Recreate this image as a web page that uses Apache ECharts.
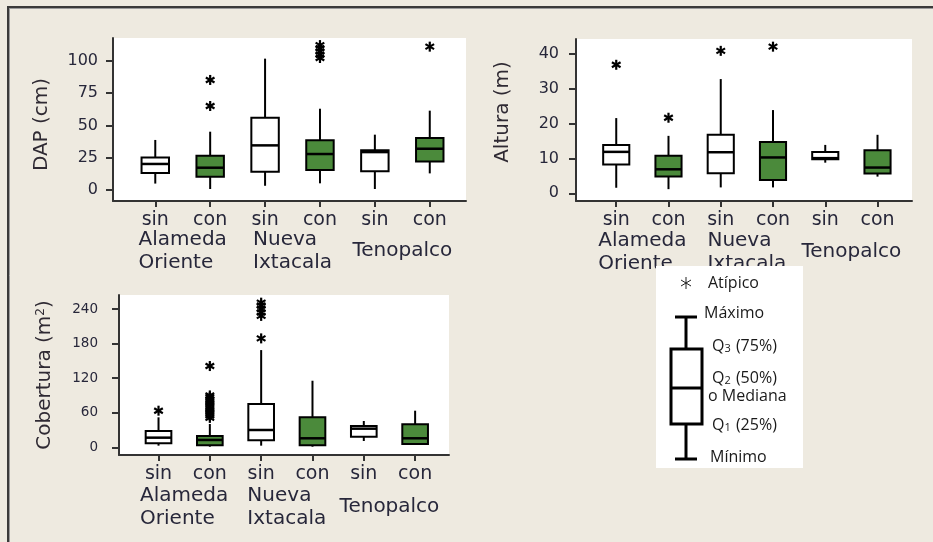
<!DOCTYPE html>
<html>
<head>
<meta charset="utf-8">
<script src="https://cdn.jsdelivr.net/npm/echarts@6/dist/echarts.min.js"></script>
<style>
  html, body { margin: 0; padding: 0; background: #eeeae0; }
  #chart { width: 933px; height: 542px; }
</style>
</head>
<body>
<div id="chart"></div>
<script>
// Treatment of each box, and the site each pair of boxes belongs to
const treatments = ['sin', 'con', 'sin', 'con', 'sin', 'con'];
const sites = ['Alameda\nOriente', 'Nueva\nIxtacala', 'Tenopalco'];

// Box statistics per treatment: [min, Q1, median, Q3, max]
const dapBoxes = [
  [5, 13.2, 20.2, 25.3, 38.8],
  [0.8, 10.3, 17.3, 26.6, 45.2],
  [3.3, 14.2, 34.6, 56, 101.8],
  [5.2, 15.5, 27.9, 38.5, 63],
  [0.8, 14.5, 29.4, 30.8, 42.9],
  [12.9, 22.2, 32, 40.3, 61.5]
];
// Outliers: [treatment index, value]
const dapOutliers = [
  [1, 85.3], [1, 65.1],
  [3, 102.3], [3, 104.8], [3, 107.3], [3, 109.8], [3, 112.3],
  [5, 111.1]
];
const dapTicks = [0, 25, 50, 75, 100];

const alturaBoxes = [
  [1.6, 8.3, 11.9, 13.9, 21.6],
  [1.2, 4.8, 6.9, 10.8, 16.5],
  [1.7, 5.8, 11.8, 16.8, 32.8],
  [1.7, 3.8, 10.3, 14.7, 23.9],
  [8.8, 9.8, 10.1, 11.9, 13.9],
  [4.8, 5.7, 7.4, 12.4, 16.8]
];
const alturaOutliers = [[0, 36.9], [1, 21.7], [2, 40.9], [3, 42.1]];
const alturaTicks = [0, 10, 20, 30, 40];

const coberturaBoxes = [
  [2.8, 6.9, 16.7, 28.3, 52],
  [1, 3.5, 12.7, 19.6, 40.4],
  [2.8, 12.1, 30, 75.1, 168.7],
  [1, 3.5, 15.6, 52, 115.5],
  [10.9, 18.4, 32.3, 36.9, 45.6],
  [4, 5.7, 15.6, 39.9, 63.5]
];
const coberturaOutliers = [
  [0, 63.5],
  [1, 141], [1, 51], [1, 55], [1, 59], [1, 63], [1, 67], [1, 71],
  [1, 75], [1, 79], [1, 83], [1, 87], [1, 90],
  [2, 189], [2, 228], [2, 234], [2, 240], [2, 246], [2, 251]
];
const coberturaTicks = [0, 60, 120, 180, 240];

const GREEN = '#4b8a3b';
const INK = '#27273a';
const AXIS = '#333333';
const FONT = 'DejaVu Sans';

// Boxes without whisker caps, median drawn as a heavier line
function renderBox(params, api) {
  const idx = api.value(0);
  const pLo = api.coord([idx, api.value(1)]);
  const pQ1 = api.coord([idx, api.value(2)]);
  const pMed = api.coord([idx, api.value(3)]);
  const pQ3 = api.coord([idx, api.value(4)]);
  const pHi = api.coord([idx, api.value(5)]);
  const half = api.size([0.5, 0])[0] / 2;
  const x = pLo[0];
  const fill = treatments[idx] === 'con' ? GREEN : '#ffffff';
  const ln = { stroke: '#000', lineWidth: 2 };
  return {
    type: 'group',
    children: [
      { type: 'line', shape: { x1: x, y1: pHi[1], x2: x, y2: pQ3[1] }, style: ln },
      { type: 'line', shape: { x1: x, y1: pQ1[1], x2: x, y2: pLo[1] }, style: ln },
      { type: 'rect', shape: { x: x - half, y: pQ3[1], width: 2 * half, height: pQ1[1] - pQ3[1] },
        style: { fill: fill, stroke: '#000', lineWidth: 2 } },
      { type: 'line', shape: { x1: x - half, y1: pMed[1], x2: x + half, y2: pMed[1] },
        style: { stroke: '#000', lineWidth: 2.5 } }
    ]
  };
}

// Bold six-armed asterisk for outliers
function renderStar(params, api) {
  const p = api.coord([api.value(0), api.value(1)]);
  const r = 5;
  const dx = r * Math.cos(Math.PI / 6), dy = r * Math.sin(Math.PI / 6);
  const st = { stroke: '#000', lineWidth: 2.2 };
  return {
    type: 'group',
    children: [
      { type: 'line', shape: { x1: p[0], y1: p[1] - r, x2: p[0], y2: p[1] + r }, style: st },
      { type: 'line', shape: { x1: p[0] - dx, y1: p[1] - dy, x2: p[0] + dx, y2: p[1] + dy }, style: st },
      { type: 'line', shape: { x1: p[0] - dx, y1: p[1] + dy, x2: p[0] + dx, y2: p[1] - dy }, style: st }
    ]
  };
}

const X_MIN = -0.77, X_MAX = 5.66;
const panels = [
  { grid: { left: 113, top: 38, width: 353, height: 163 },
    boxes: dapBoxes, outliers: dapOutliers, ticks: dapTicks,
    yMin: -8.5, yMax: 117.8, name: 'DAP (cm)', nameGap: 61, namePad: [0, 10, 0, 0],
    tickFont: 16, tickMargin: 15, siteMargin: 50 },
  { grid: { left: 576, top: 39, width: 336, height: 162 },
    boxes: alturaBoxes, outliers: alturaOutliers, ticks: alturaTicks,
    yMin: -2.2, yMax: 44.3, name: 'Altura (m)', nameGap: 63, namePad: [0, 0, 0, 16],
    tickFont: 16, tickMargin: 17, siteMargin: 51 },
  { grid: { left: 119, top: 295, width: 330, height: 160 },
    boxes: coberturaBoxes, outliers: coberturaOutliers, ticks: coberturaTicks,
    yMin: -13.4, yMax: 264.3, name: 'Cobertura (m{sup|2})', nameGap: 64, namePad: [0, 0, 0, 0],
    tickFont: 13.5, tickMargin: 21, siteMargin: 52 }
];

const grids = [], xAxes = [], yAxes = [], series = [];
const treatmentValues = treatments.map((t, i) => i);
const siteValues = sites.map((s, i) => 2 * i + 0.5);

panels.forEach((p, k) => {
  grids.push(Object.assign({ show: true, backgroundColor: '#ffffff', borderWidth: 0 }, p.grid));
  xAxes.push({
    type: 'value', gridIndex: k, position: 'bottom', min: X_MIN, max: X_MAX,
    splitLine: { show: false },
    axisLine: { onZero: false, lineStyle: { color: AXIS, width: 2 } },
    axisTick: { length: 6, customValues: treatmentValues, lineStyle: { color: AXIS, width: 2 } },
    axisLabel: {
      customValues: treatmentValues, margin: 19, verticalAlign: 'middle',
      fontFamily: FONT, fontSize: 19, color: INK,
      formatter: v => treatments[Math.round(v)]
    }
  });
  xAxes.push({
    type: 'value', gridIndex: k, position: 'bottom', min: X_MIN, max: X_MAX,
    splitLine: { show: false },
    axisLine: { show: false }, axisTick: { show: false },
    axisLabel: {
      customValues: siteValues, margin: p.siteMargin, verticalAlign: 'middle',
      fontFamily: FONT, fontSize: 20, color: INK, lineHeight: 23,
      formatter: v => sites[Math.round((v - 0.5) / 2)].split('\n').map(s => '{l|' + s + '}').join('\n'),
      rich: { l: { align: 'left', fontFamily: FONT, fontSize: 20, color: INK, lineHeight: 23 } }
    }
  });
  yAxes.push({
    type: 'value', gridIndex: k, min: p.yMin, max: p.yMax,
    splitLine: { show: false },
    axisLine: { show: true, onZero: false, lineStyle: { color: AXIS, width: 2 } },
    axisTick: { show: true, length: 7, customValues: p.ticks, lineStyle: { color: AXIS, width: 2 } },
    axisLabel: { customValues: p.ticks, margin: p.tickMargin, fontFamily: FONT, fontSize: p.tickFont, color: INK },
    name: p.name, nameLocation: 'middle', nameGap: p.nameGap,
    nameTextStyle: {
      fontFamily: FONT, fontSize: 20, color: '#2f2a33', padding: p.namePad,
      rich: { sup: { fontFamily: FONT, fontSize: 12, color: '#2f2a33', verticalAlign: 'top', lineHeight: 14, padding: [0, 0, 8, 0] } }
    }
  });
  series.push({
    type: 'custom', xAxisIndex: 2 * k, yAxisIndex: k,
    renderItem: renderBox,
    encode: { x: 0, y: [1, 2, 3, 4, 5] },
    data: p.boxes.map((b, i) => [i].concat(b)),
    silent: true
  });
  series.push({
    type: 'custom', xAxisIndex: 2 * k, yAxisIndex: k,
    renderItem: renderStar,
    encode: { x: 0, y: 1 },
    data: p.outliers,
    silent: true
  });
});

// Key explaining the box diagram
const KEY_FONT = '16px "Open Sans"';
const keyText = (x, y, text, rich) => ({
  type: 'text', x: x, y: y, z: 101,
  style: { text: text, font: KEY_FONT, fill: '#1a1a1a', verticalAlign: 'middle', align: 'left', rich: rich }
});
const subRich = {
  q: { fontFamily: 'Open Sans', fontSize: 16, color: '#1a1a1a' },
  s: { fontFamily: 'Open Sans', fontSize: 11, color: '#1a1a1a', padding: [6, 1, 0, 0] }
};
const thick = { stroke: '#000', lineWidth: 3 };
const keyElements = [
  { type: 'rect', z: 100, shape: { x: 656, y: 266, width: 147, height: 202 }, style: { fill: '#ffffff' } },
  { type: 'line', z: 101, shape: { x1: 686, y1: 277, x2: 686, y2: 289 }, style: { stroke: '#222', lineWidth: 1 } },
  { type: 'line', z: 101, shape: { x1: 681, y1: 280, x2: 691, y2: 286 }, style: { stroke: '#222', lineWidth: 1 } },
  { type: 'line', z: 101, shape: { x1: 681, y1: 286, x2: 691, y2: 280 }, style: { stroke: '#222', lineWidth: 1 } },
  keyText(708, 283, 'Atípico'),
  { type: 'line', z: 101, shape: { x1: 686, y1: 317, x2: 686, y2: 459 }, style: thick },
  { type: 'line', z: 101, shape: { x1: 675, y1: 317, x2: 697, y2: 317 }, style: thick },
  { type: 'line', z: 101, shape: { x1: 675, y1: 459, x2: 697, y2: 459 }, style: thick },
  { type: 'rect', z: 102, shape: { x: 671, y: 349, width: 31, height: 75 }, style: { fill: '#ffffff', stroke: '#000', lineWidth: 3 } },
  { type: 'line', z: 103, shape: { x1: 671, y1: 388, x2: 702, y2: 388 }, style: thick },
  keyText(704, 313, 'Máximo'),
  keyText(712, 346, '{q|Q}{s|3}{q| (75%)}', subRich),
  keyText(712, 378, '{q|Q}{s|2}{q| (50%)}', subRich),
  keyText(708, 396, 'o Mediana'),
  keyText(712, 425, '{q|Q}{s|1}{q| (25%)}', subRich),
  keyText(710, 457, 'Mínimo')
];

// Frame along the top and left edges
const frame = [
  { type: 'line', z: 90, shape: { x1: 7, y1: 7, x2: 933, y2: 7 }, style: { stroke: '#3a3a3a', lineWidth: 2 } },
  { type: 'line', z: 90, shape: { x1: 8, y1: 6, x2: 8, y2: 542 }, style: { stroke: '#3a3a3a', lineWidth: 2 } },
  { type: 'line', z: 90, shape: { x1: 9, y1: 8.5, x2: 933, y2: 8.5 }, style: { stroke: '#9a9a9a', lineWidth: 1 } },
  { type: 'line', z: 90, shape: { x1: 9.5, y1: 9, x2: 9.5, y2: 542 }, style: { stroke: '#9a9a9a', lineWidth: 1 } }
];

const chart = echarts.init(document.getElementById('chart'), null, { renderer: 'canvas' });
chart.setOption({
  backgroundColor: '#eeeae0',
  animation: false,
  grid: grids,
  xAxis: xAxes,
  yAxis: yAxes,
  series: series,
  graphic: { elements: frame.concat(keyElements) }
});
</script>
</body>
</html>
